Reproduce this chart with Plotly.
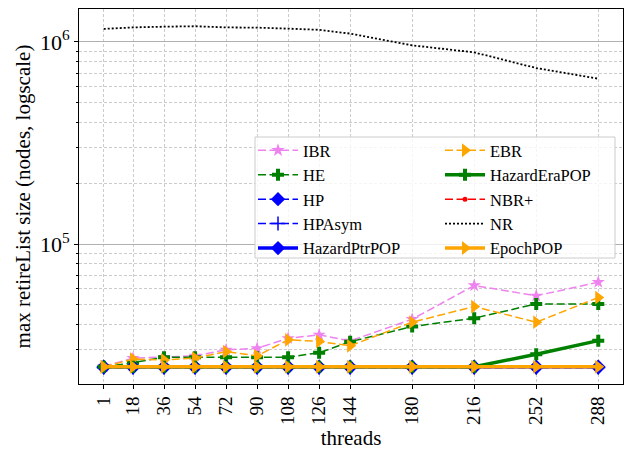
import plotly.graph_objects as go

threads = [1, 18, 36, 54, 72, 90, 108, 126, 144, 180, 216, 252, 288]
tick_labels = ["1", "18", "36", "54", "72", "90", "108", "126", "144", "180", "216", "252", "288"]

IBR = [24800, 27300, 27600, 28000, 30000, 30500, 34200, 35600, 33200, 42500, 62400, 55500, 64800]
HE = [24700, 25900, 27600, 27600, 27600, 27600, 27600, 29000, 32900, 39100, 43000, 50600, 50500]
HP = [24500, 24500, 24500, 24500, 24500, 24500, 24500, 24500, 24500, 24500, 24500, 24500, 24500]
HPAsym = [24500, 24500, 24500, 24500, 24500, 24500, 24500, 24500, 24500, 24500, 24500, 24500, 24500]
HazardPtrPOP = [24750, 24750, 24750, 24750, 24750, 24750, 24750, 24750, 24750, 24750, 24750, 24750, 24750]
EBR = [24700, 27000, 26700, 27300, 29400, 28000, 33600, 33000, 31400, 41100, 49100, 41100, 54400]
HazardEraPOP = [24750, 24750, 24750, 24750, 24750, 24750, 24750, 24750, 24750, 24750, 24750, 28500, 33300]
NBRplus = [24700, 24700, 24700, 24700, 24700, 24700, 24700, 24700, 24700, 24700, 24700, 24700, 24700]
NR = [1160000, 1180000, 1190000, 1196000, 1180000, 1177000, 1164000, 1148000, 1100000, 962000, 888000, 743000, 658000]
EpochPOP = [24750, 24750, 24750, 24750, 24750, 24750, 24750, 24750, 24750, 24750, 24750, 24750, 24750]

y_major = [1e5, 1e6]
y_major_text = ["10<sup>5</sup>", "10<sup>6</sup>"]
y_minor = [3e4, 4e4, 5e4, 6e4, 7e4, 8e4, 9e4, 2e5, 3e5, 4e5, 5e5, 6e5, 7e5, 8e5, 9e5]

DASH = "8px,3.5px"
FONT = "Liberation Serif"

# name, values, color, dash, width, symbol, size, legend column
specs = [
    ("IBR", IBR, "#EE82EE", DASH, 1.5, "star", 10, "legend"),
    ("HE", HE, "#008000", DASH, 1.5, "cross", 10, "legend"),
    ("HP", HP, "#0000FF", DASH, 1.5, "diamond", 11, "legend"),
    ("HPAsym", HPAsym, "#0000FF", DASH, 1.5, "cross-thin-open", 10, "legend"),
    ("HazardPtrPOP", HazardPtrPOP, "#0000FF", "solid", 3.5, "diamond", 11, "legend"),
    ("EBR", EBR, "#FFA500", DASH, 1.5, "triangle-right", 12, "legend2"),
    ("HazardEraPOP", HazardEraPOP, "#008000", "solid", 3.5, "cross", 10, "legend2"),
    ("NBR+", NBRplus, "#FF0000", DASH, 1.5, "circle", 5, "legend2"),
    ("NR", NR, "#000000", "2px,2px", 1.8, None, 0, "legend2"),
    ("EpochPOP", EpochPOP, "#FFA500", "solid", 3.5, "triangle-right", 12, "legend2"),
]

fig = go.Figure()
for name, vals, color, dash, width, symbol, size, leg in specs:
    mode = "lines+markers" if symbol else "lines"
    marker = dict(color=color, size=size, symbol=symbol,
                  line=dict(color=color, width=1.5 if symbol == "cross-thin-open" else 0)) if symbol else None
    fig.add_trace(go.Scatter(
        x=threads, y=vals, name=name, mode=mode,
        line=dict(color=color, dash=dash, width=width),
        marker=marker, legend=leg,
    ))

L, R, T, B = 79, 6, 9, 72
PW, PH = 629 - L - R, 456 - T - B

def px_x(p):
    return (p - L) / PW

def px_y(p):
    return (456 - B - p) / PH

legend_common = dict(
    orientation="v", xanchor="left", yanchor="top",
    itemwidth=40, font=dict(family=FONT, size=16.5, color="black"),
    bgcolor="rgba(0,0,0,0)", borderwidth=0, traceorder="normal",
)

fig.update_layout(
    width=629, height=456,
    margin=dict(l=L, r=R, t=T, b=B),
    paper_bgcolor="white", plot_bgcolor="white",
    font=dict(family=FONT, color="black", size=19),
    showlegend=True,
    legend=dict(x=px_x(253), y=px_y(133), **legend_common),
    legend2=dict(x=px_x(440), y=px_y(133), **legend_common),
    shapes=[dict(type="rect", xref="paper", yref="paper",
                 x0=px_x(255), x1=px_x(615), y0=px_y(258), y1=px_y(137),
                 fillcolor="rgba(255,255,255,0.8)", line=dict(color="#cccccc", width=1),
                 layer="above")],
    xaxis=dict(
        range=[-13.35, 302.35], tickmode="array", tickvals=threads, ticktext=tick_labels,
        tickangle=-90, ticks="outside", ticklen=4, tickcolor="black",
        showline=True, mirror=True, linecolor="black", linewidth=1,
        showgrid=True, gridcolor="#cccccc", griddash="3px,2px", gridwidth=1,
        zeroline=False, tickfont=dict(size=19), automargin=False,
        title=dict(text="threads", font=dict(size=21), standoff=6),
    ),
    yaxis=dict(
        type="log", range=[4.308, 6.163], tickmode="array",
        tickvals=y_major, ticktext=y_major_text,
        ticks="outside", ticklen=4, tickcolor="black",
        showline=True, mirror=True, linecolor="black", linewidth=1,
        showgrid=True, gridcolor="#b0b0b0", gridwidth=1, zeroline=False,
        tickfont=dict(size=22), automargin=False,
        minor=dict(tickmode="array", tickvals=y_minor, ticks="outside", ticklen=2,
                   tickcolor="black", showgrid=True, gridcolor="#cccccc",
                   griddash="3px,2px", gridwidth=1),
        title=dict(text="max retireList size (nodes, logscale)", font=dict(size=21), standoff=3),
    ),
)

fig.write_html("out.html", config={"displayModeBar": False},
               post_script="document.body.style.margin='0px';")
